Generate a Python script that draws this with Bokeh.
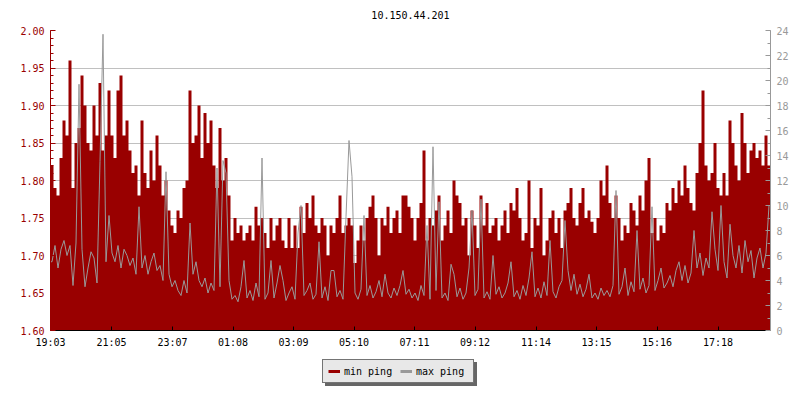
from bokeh.plotting import figure
from bokeh.layouts import column
from bokeh.models import (Range1d, LinearAxis, FixedTicker, Legend, LegendItem,
                          PrintfTickFormatter)
from bokeh.embed import file_html
from bokeh.resources import INLINE

title_text = "10.150.44.201"
time_labels = ["19:03", "21:05", "23:07", "01:08", "03:09", "05:10",
               "07:11", "09:12", "11:14", "13:15", "15:16", "17:18"]
span_minutes = 1440
step_minutes = 6

# min ping (ms), left axis
min_ping = [
    1.82, 1.79, 1.78, 1.83, 1.88, 1.86, 1.96, 1.79, 1.85, 1.87, 1.94, 1.90, 1.85, 1.84, 1.90, 1.86, 1.93, 1.84, 1.86, 1.92,
    1.86, 1.83, 1.92, 1.94, 1.86, 1.88, 1.84, 1.81, 1.82, 1.78, 1.88, 1.81, 1.79, 1.84, 1.80, 1.86, 1.82, 1.78, 1.80, 1.76,
    1.74, 1.73, 1.76, 1.75, 1.79, 1.80, 1.92, 1.85, 1.86, 1.90, 1.83, 1.89, 1.85, 1.88, 1.82, 1.79, 1.87, 1.80, 1.83, 1.78,
    1.72, 1.75, 1.73, 1.74, 1.72, 1.73, 1.74, 1.72, 1.765, 1.74, 1.75, 1.73, 1.71, 1.75, 1.72, 1.74, 1.75, 1.72, 1.71, 1.75,
    1.71, 1.74, 1.71, 1.765, 1.73, 1.77, 1.75, 1.78, 1.74, 1.73, 1.75, 1.74, 1.70, 1.74, 1.73, 1.75, 1.78, 1.73, 1.74, 1.75,
    1.74, 1.69, 1.72, 1.74, 1.72, 1.75, 1.765, 1.78, 1.75, 1.70, 1.75, 1.74, 1.765, 1.73, 1.75, 1.76, 1.73, 1.78, 1.78, 1.765,
    1.75, 1.72, 1.75, 1.77, 1.84, 1.72, 1.75, 1.74, 1.76, 1.78, 1.72, 1.74, 1.76, 1.73, 1.80, 1.78, 1.77, 1.74, 1.75, 1.70,
    1.76, 1.74, 1.71, 1.78, 1.74, 1.77, 1.73, 1.74, 1.75, 1.72, 1.74, 1.76, 1.73, 1.77, 1.76, 1.79, 1.75, 1.72, 1.73, 1.80,
    1.71, 1.75, 1.74, 1.79, 1.70, 1.72, 1.75, 1.76, 1.73, 1.75, 1.71, 1.76, 1.77, 1.79, 1.75, 1.74, 1.77, 1.79, 1.75, 1.76,
    1.745, 1.73, 1.75, 1.80, 1.78, 1.82, 1.77, 1.75, 1.78, 1.75, 1.72, 1.74, 1.73, 1.77, 1.76, 1.74, 1.78, 1.76, 1.80, 1.83,
    1.73, 1.75, 1.72, 1.74, 1.73, 1.77, 1.76, 1.79, 1.77, 1.80, 1.78, 1.82, 1.79, 1.77, 1.76, 1.81, 1.85, 1.92, 1.82, 1.80,
    1.81, 1.85, 1.79, 1.78, 1.81, 1.78, 1.88, 1.85, 1.82, 1.80, 1.89, 1.85, 1.81, 1.84, 1.85, 1.83, 1.84, 1.82, 1.86, 1.82,
]

# max ping (ms), right axis
max_ping = [
    5.5, 6.8, 5.0, 6.5, 7.2, 6.0, 6.8, 3.6, 7.0, 19.7, 6.5, 3.5, 5.0, 6.3, 5.8, 3.8, 13.5, 23.7, 5.5, 9.2,
    6.2, 5.5, 6.8, 5.0, 6.5, 6.0, 5.2, 5.8, 4.5, 9.9, 5.0, 6.0, 4.5, 5.5, 6.2, 4.8, 5.2, 4.0, 12.7, 4.5,
    3.5, 4.0, 3.2, 2.8, 4.0, 3.0, 8.6, 4.5, 5.5, 4.0, 3.5, 4.2, 3.0, 3.8, 3.2, 13.0, 3.5, 13.6, 12.6, 4.0,
    2.5, 2.8, 2.3, 3.5, 5.6, 2.6, 3.2, 2.4, 3.8, 2.7, 13.8, 2.5, 3.0, 5.6, 2.6, 3.8, 5.2, 4.0, 2.4, 3.0,
    3.5, 2.5, 7.8, 10.0, 2.8, 3.2, 3.8, 2.5, 2.9, 7.1, 2.6, 3.5, 2.4, 4.8, 4.8, 2.7, 3.2, 2.5, 9.1, 15.2,
    12.3, 3.0, 2.5, 3.3, 9.2, 2.8, 3.6, 2.6, 3.1, 4.0, 2.7, 4.5, 3.0, 2.6, 3.4, 2.8, 3.6, 4.8, 2.9, 3.3,
    2.6, 3.0, 2.4, 3.6, 2.8, 8.4, 2.5, 14.7, 3.2, 10.3, 2.6, 3.0, 2.4, 5.3, 4.5, 2.7, 3.4, 2.5, 3.0, 5.0,
    9.6, 2.8, 3.3, 10.5, 2.6, 3.1, 2.5, 6.0, 2.9, 3.5, 2.6, 3.0, 3.8, 5.5, 2.7, 3.2, 2.5, 3.6, 2.8, 4.2,
    6.3, 2.7, 3.4, 2.6, 3.9, 2.8, 7.2, 3.1, 2.6, 3.5, 4.0, 8.8, 4.8, 3.2, 4.5, 2.9, 3.7, 2.7, 3.3, 4.5,
    2.6, 3.0, 2.5, 3.4, 2.8, 3.2, 2.7, 3.6, 11.2, 2.9, 3.5, 5.0, 2.8, 3.9, 3.1, 8.0, 3.3, 4.2, 3.0, 3.6,
    9.9, 3.2, 4.0, 5.0, 3.4, 3.8, 4.4, 3.5, 4.8, 5.5, 4.0, 5.2, 3.8, 4.6, 8.0, 5.0, 6.2, 4.4, 5.8, 5.0,
    9.5, 6.5, 4.8, 10.0, 5.5, 4.2, 8.5, 6.0, 5.0, 6.8, 4.6, 7.2, 5.5, 6.4, 4.2, 5.8, 6.6, 5.0, 6.2, 10.0,
]

left_ticks = [1.60, 1.65, 1.70, 1.75, 1.80, 1.85, 1.90, 1.95, 2.00]
left_minor = [round(1.60 + 0.01 * k, 2) for k in range(41)]
right_ticks = list(range(0, 25, 2))
right_minor = list(range(0, 25))
legend_labels = ["min ping", "max ping"]

RED = "#990000"
GRAY = "#999999"
SHADOW = "#666666"
FONT = "DejaVu Sans Mono"
NAN = float("nan")


def minutes_since_start(lbl, start):
    h, m = map(int, lbl.split(":"))
    sh, sm = map(int, start.split(":"))
    return ((h * 60 + m) - (sh * 60 + sm)) % 1440


tick_pos = [minutes_since_start(l, time_labels[0]) for l in time_labels]
n = len(min_ping)
xs = [i * step_minutes for i in range(n)] + [span_minutes]
min_ext = min_ping + [min_ping[-1]]
xm = [0] + [i * step_minutes + step_minutes / 2 for i in range(n)] + [span_minutes]
max_ext = [max_ping[0]] + max_ping + [max_ping[-1]]

p = figure(width=800, height=355, output_backend="svg", toolbar_location=None,
           x_range=Range1d(0, span_minutes), y_range=Range1d(1.60, 2.00),
           min_border_left=50, min_border_right=30, min_border_top=0,
           min_border_bottom=25, title=title_text)
p.outline_line_color = None
p.background_fill_color = "white"
p.border_fill_color = "white"
p.title.align = "center"
p.title.vertical_align = "top"
p.title.text_font = FONT
p.title.text_font_size = "10px"
p.title.text_font_style = "normal"
p.title.text_color = "black"
p.title.standoff = 20

p.extra_y_ranges = {"max": Range1d(0, 24)}

p.xgrid.visible = False
p.ygrid.ticker = FixedTicker(ticks=left_ticks)
p.ygrid.grid_line_color = "#c0c0c0"
p.ygrid.grid_line_width = 1

p.varea_step(x=xs, y1=[1.60] * len(xs), y2=min_ext, step_mode="after",
             fill_color=RED, fill_alpha=1.0)
p.line(x=xm, y=max_ext, line_color=GRAY, line_width=1, y_range_name="max")

xa = p.xaxis[0]
xa.ticker = FixedTicker(ticks=tick_pos, minor_ticks=[])
xa.major_label_overrides = {tp: lbl for tp, lbl in zip(tick_pos, time_labels)}
xa.axis_line_color = "black"
xa.major_tick_line_color = "black"
xa.major_tick_in = 4
xa.major_tick_out = 0
xa.minor_tick_line_color = None
xa.major_label_text_font = FONT
xa.major_label_text_font_size = "10px"
xa.major_label_text_color = "black"
xa.major_label_standoff = 6

ya = p.yaxis[0]
ya.ticker = FixedTicker(ticks=left_ticks, minor_ticks=left_minor)
ya.formatter = PrintfTickFormatter(format="%.2f")
ya.axis_line_color = RED
ya.major_tick_line_color = RED
ya.minor_tick_line_color = RED
ya.major_tick_in = 5
ya.major_tick_out = 0
ya.minor_tick_in = 3
ya.minor_tick_out = 0
ya.major_label_text_font = FONT
ya.major_label_text_font_size = "10px"
ya.major_label_text_color = RED
ya.major_label_standoff = 6

ra = LinearAxis(y_range_name="max",
                ticker=FixedTicker(ticks=right_ticks, minor_ticks=right_minor))
ra.axis_line_color = GRAY
ra.major_tick_line_color = GRAY
ra.minor_tick_line_color = GRAY
ra.major_tick_in = 5
ra.major_tick_out = 0
ra.minor_tick_in = 3
ra.minor_tick_out = 0
ra.major_label_text_font = FONT
ra.major_label_text_font_size = "10px"
ra.major_label_text_color = GRAY
ra.major_label_standoff = 6
p.add_layout(ra, "right")

# legend strip below the chart
lg = figure(width=800, height=45, output_backend="svg", toolbar_location=None,
            x_axis_type=None, y_axis_type=None, min_border=0,
            x_range=Range1d(0, 1), y_range=Range1d(0, 1))
lg.outline_line_color = None
lg.grid.visible = False
lg.background_fill_color = "white"
lg.border_fill_color = "white"

leg_min = lg.line(x=[NAN], y=[NAN], line_color=RED, line_width=3)
leg_max = lg.line(x=[NAN], y=[NAN], line_color=GRAY, line_width=3)
sh1 = lg.line(x=[NAN], y=[NAN], line_color=SHADOW, line_width=3)
sh2 = lg.line(x=[NAN], y=[NAN], line_color=SHADOW, line_width=3)

common = dict(orientation="horizontal", margin=0, padding=5, spacing=4,
              glyph_width=12, glyph_height=12, label_height=12, label_width=52,
              label_standoff=4, label_text_font=FONT, label_text_font_size="10px",
              border_line_width=1, background_fill_alpha=1.0)

shadow = Legend(items=[LegendItem(label=" ", renderers=[sh1]),
                       LegendItem(label=" ", renderers=[sh2])],
                location=(275, 14), background_fill_color=SHADOW,
                border_line_color=SHADOW, label_text_color=SHADOW, **common)
legend = Legend(items=[LegendItem(label=legend_labels[0], renderers=[leg_min]),
                       LegendItem(label=legend_labels[1], renderers=[leg_max])],
                location=(272, 17), background_fill_color="#e8e8e8",
                border_line_color="black", label_text_color="black", **common)
lg.add_layout(shadow, "center")
lg.add_layout(legend, "center")

layout = column(p, lg, spacing=0)
open("out.html", "w").write(file_html(layout, INLINE))
